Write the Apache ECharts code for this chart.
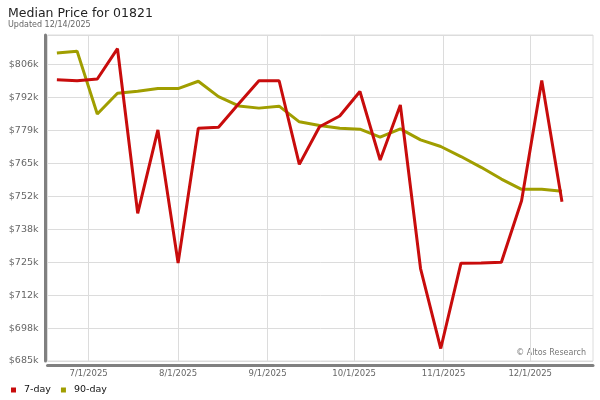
<!DOCTYPE html>
<html>
<head>
<meta charset="utf-8">
<script src="https://cdn.jsdelivr.net/npm/echarts@6/dist/echarts.min.js"></script>
<style>
  html, body { margin: 0; padding: 0; background: #fff; }
  #chart { width: 600px; height: 400px; }
</style>
</head>
<body>
<div id="chart"></div>
<script>
// weekly dates (Fridays)
const weekDates = [
  '2025-06-20', '2025-06-27', '2025-07-04', '2025-07-11', '2025-07-18', '2025-07-25',
  '2025-08-01', '2025-08-08', '2025-08-15', '2025-08-22', '2025-08-29', '2025-09-05',
  '2025-09-12', '2025-09-19', '2025-09-26', '2025-10-03', '2025-10-10', '2025-10-17',
  '2025-10-24', '2025-10-31', '2025-11-07', '2025-11-14', '2025-11-21', '2025-11-28',
  '2025-12-05', '2025-12-12'
];

// median price, $k
const sevenDay = [
  799.6, 799.2, 799.9, 812.3, 745.0, 779.1,
  724.7, 779.8, 780.2, 789.8, 799.2, 799.2,
  765.0, 780.4, 784.8, 794.8, 766.8, 789.3,
  722.4, 689.7, 724.6, 724.7, 725.0, 750.1,
  799.3, 749.7
];

const ninetyDay = [
  810.5, 811.3, 785.6, 794.1, 794.9, 796.0,
  796.0, 799.0, 792.7, 788.9, 788.0, 788.8,
  782.4, 780.9, 779.8, 779.4, 776.1, 779.5,
  775.0, 772.3, 768.2, 763.8, 759.0, 754.8,
  754.8, 754.0
];

const yTickLabels = ['$685k', '$698k', '$712k', '$725k', '$738k', '$752k', '$765k', '$779k', '$792k', '$806k'];
const xTickDates = ['2025-07-01', '2025-08-01', '2025-09-01', '2025-10-01', '2025-11-01', '2025-12-01'];
const xTickLabels = ['7/1/2025', '8/1/2025', '9/1/2025', '10/1/2025', '11/1/2025', '12/1/2025'];

const yMin = 684.6;
const yMax = 817.9;
const yStep = 13.46;

const font = 'DejaVu Sans';
const toTime = d => +echarts.number.parseDate(d);
const xTicks = xTickDates.map(toTime);

const chart = echarts.init(document.getElementById('chart'));

const option = {
  animation: false,
  title: {
    text: 'Median Price for 01821',
    subtext: 'Updated 12/14/2025',
    left: 3,
    top: 2,
    itemGap: 1,
    textStyle: { fontFamily: font, fontSize: 12.5, fontWeight: 'normal', color: '#222' },
    subtextStyle: { fontFamily: font, fontSize: 8, color: '#666' }
  },
  legend: {
    left: 6,
    top: 380,
    icon: 'rect',
    itemWidth: 5,
    itemHeight: 5,
    itemGap: 10,
    textStyle: { fontFamily: font, fontSize: 9.5, color: '#111', padding: [0, 0, 0, 3] },
    data: ['7-day', '90-day']
  },
  grid: {
    left: 47.5,
    right: 7,
    top: 35,
    bottom: 39,
    show: true,
    borderColor: '#dcdcdc',
    borderWidth: 1
  },
  xAxis: {
    type: 'value',
    min: toTime('2025-06-16 18:00'),
    max: toTime('2025-12-22 18:00'),
    offset: 4,
    axisLine: { show: true, lineStyle: { color: '#808080', width: 3 } },
    axisTick: { show: false, customValues: xTicks },
    axisLabel: {
      customValues: xTicks,
      margin: 4,
      fontFamily: font,
      fontSize: 8.5,
      color: '#666',
      formatter: v => xTickLabels[xTicks.indexOf(v)] || ''
    },
    splitLine: { show: true, lineStyle: { color: '#dcdcdc', width: 1 } }
  },
  yAxis: {
    type: 'value',
    min: yMin,
    max: yMax,
    interval: yStep,
    offset: 2,
    axisLine: { show: true, lineStyle: { color: '#808080', width: 3 } },
    axisTick: { show: false },
    axisLabel: {
      margin: 7,
      fontFamily: font,
      fontSize: 9.5,
      color: '#666',
      showMaxLabel: false,
      formatter: v => yTickLabels[Math.round((v - yMin) / yStep)] || ''
    },
    splitLine: { show: true, lineStyle: { color: '#dcdcdc', width: 1 } }
  },
  graphic: [
    {
      type: 'text',
      right: 14,
      top: 349,
      style: { text: '\u00a9 Altos Research', fontFamily: font, fontSize: 8, fill: '#777' }
    }
  ],
  series: [
    {
      name: '7-day',
      type: 'line',
      showSymbol: false,
      color: '#c80c0c',
      lineStyle: { width: 3, color: '#c80c0c' },
      data: weekDates.map((d, i) => [toTime(d), sevenDay[i]]),
      z: 3
    },
    {
      name: '90-day',
      type: 'line',
      showSymbol: false,
      color: '#a09e00',
      lineStyle: { width: 3, color: '#a09e00' },
      data: weekDates.map((d, i) => [toTime(d), ninetyDay[i]]),
      z: 2
    }
  ]
};

chart.setOption(option);
</script>
</body>
</html>
